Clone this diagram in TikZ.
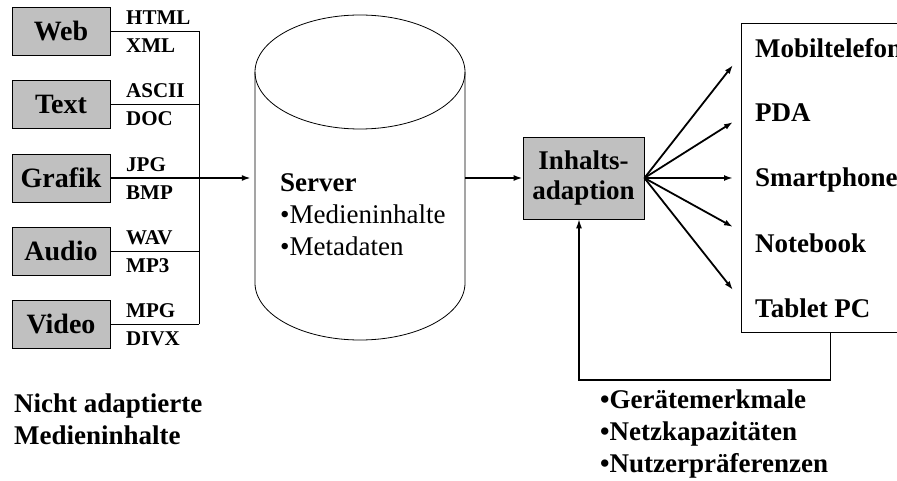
\documentclass[tikz,border=0pt]{standalone}
\usepackage{fontspec}
\setmainfont{Liberation Serif}
\usetikzlibrary{positioning}
\usetikzlibrary{arrows.meta}
\definecolor{boxgray}{RGB}{192,192,192}
\tikzset{
    mediabox/.style={draw, fill=boxgray, line width=0.8pt, minimum width=98pt, minimum height=48pt, inner sep=0pt, font=\fontsize{28}{30}\selectfont\bfseries},
    fmtlabel/.style={anchor=west, inner sep=0pt, font=\fontsize{21}{22}\selectfont\bfseries},
    devlabel/.style={anchor=west, inner sep=0pt, font=\fontsize{27}{30}\selectfont\bfseries},
    thinline/.style={line width=0.8pt},
    flow/.style={line width=1.8pt, -{Latex[length=9pt,width=6pt]}},
    feedback/.style={line width=1.2pt, -{Latex[length=9pt,width=6pt]}},
}

\begin{document}
\begin{tikzpicture}[x=1pt, y=-1pt]
        \useasboundingbox (0,0) rectangle (897,481);
        \coordinate (bus) at (199,0);

        % Server as a cylinder
        \node[minimum width=210pt, minimum height=325pt, inner sep=0pt] (server) at (360,177) {};
        \draw[thinline] (360,72) ellipse [x radius=105, y radius=57];
        \draw[thinline] (255,72) -- (255,283) arc[start angle=180, end angle=0, x radius=105, y radius=57] -- (465,72);
        \node[anchor=west, align=left, inner sep=0pt, font=\fontsize{27}{32}\selectfont] (servertext) at (280,215)
            {\textbf{Server}\\•Medieninhalte\\•Metadaten};

        % Media types with their formats
        \foreach \name/\txt/\y/\fa/\fb in {web/Web/31/HTML/XML, text/Text/104/ASCII/DOC, grafik/Grafik/178/JPG/BMP, audio/Audio/251/WAV/MP3, video/Video/324/MPG/DIVX} {
            \node[mediabox] (\name) at (61,\y) {\txt};
            \node[fmtlabel] (\name-a) at (126,\y-13) {\fa};
            \node[fmtlabel] (\name-b) at (126,\y+15) {\fb};
            \draw[thinline] (\name.east) -- (\name.east -| bus);
        }
        \draw[thinline] (web.east -| bus) -- (video.east -| bus);
        \draw[flow, shorten >=4pt] (grafik.east) -- (grafik.east -| server.west);

        \node[anchor=west, align=left, inner sep=0pt, font=\fontsize{27}{32}\selectfont\bfseries] (notadapted) at (14,419)
            {Nicht adaptierte\\Medieninhalte};

        % Adaption
        \node[mediabox, font=\fontsize{27}{30}\selectfont\bfseries, minimum width=121pt, minimum height=82pt, align=center] (inhalt) at (583.5,178) {Inhalts-\\adaption};
        \draw[flow] (inhalt.west -| server.east) -- (inhalt.west);

        % Devices
        \node[draw, thinline, minimum width=164pt, minimum height=309pt, anchor=north west] (devices) at (741,23) {};
        \foreach \dev/\txt/\ly/\ay in {mobil/Mobiltelefon/48/65, pda/PDA/113/122, smart/Smartphone/180/178, note/Notebook/243/227, tablet/Tablet PC/308/290} {
            \node[devlabel] (\dev) at (755,\ly) {\txt};
            \coordinate (\dev-in) at (733,\ay);
            \draw[flow] (inhalt.east) -- (\dev-in);
        }

        % Feedback from the devices
        \coordinate (fbturn) at (579,380);
        \draw[feedback] ([xshift=7pt]devices.south) |- (fbturn) -- (fbturn |- inhalt.south);
        \node[anchor=west, align=left, inner sep=0pt, font=\fontsize{27}{32}\selectfont\bfseries] (properties) at (600,434)
            {•Gerätemerkmale\\•Netzkapazitäten\\•Nutzerpräferenzen};
\end{tikzpicture}
\end{document}
